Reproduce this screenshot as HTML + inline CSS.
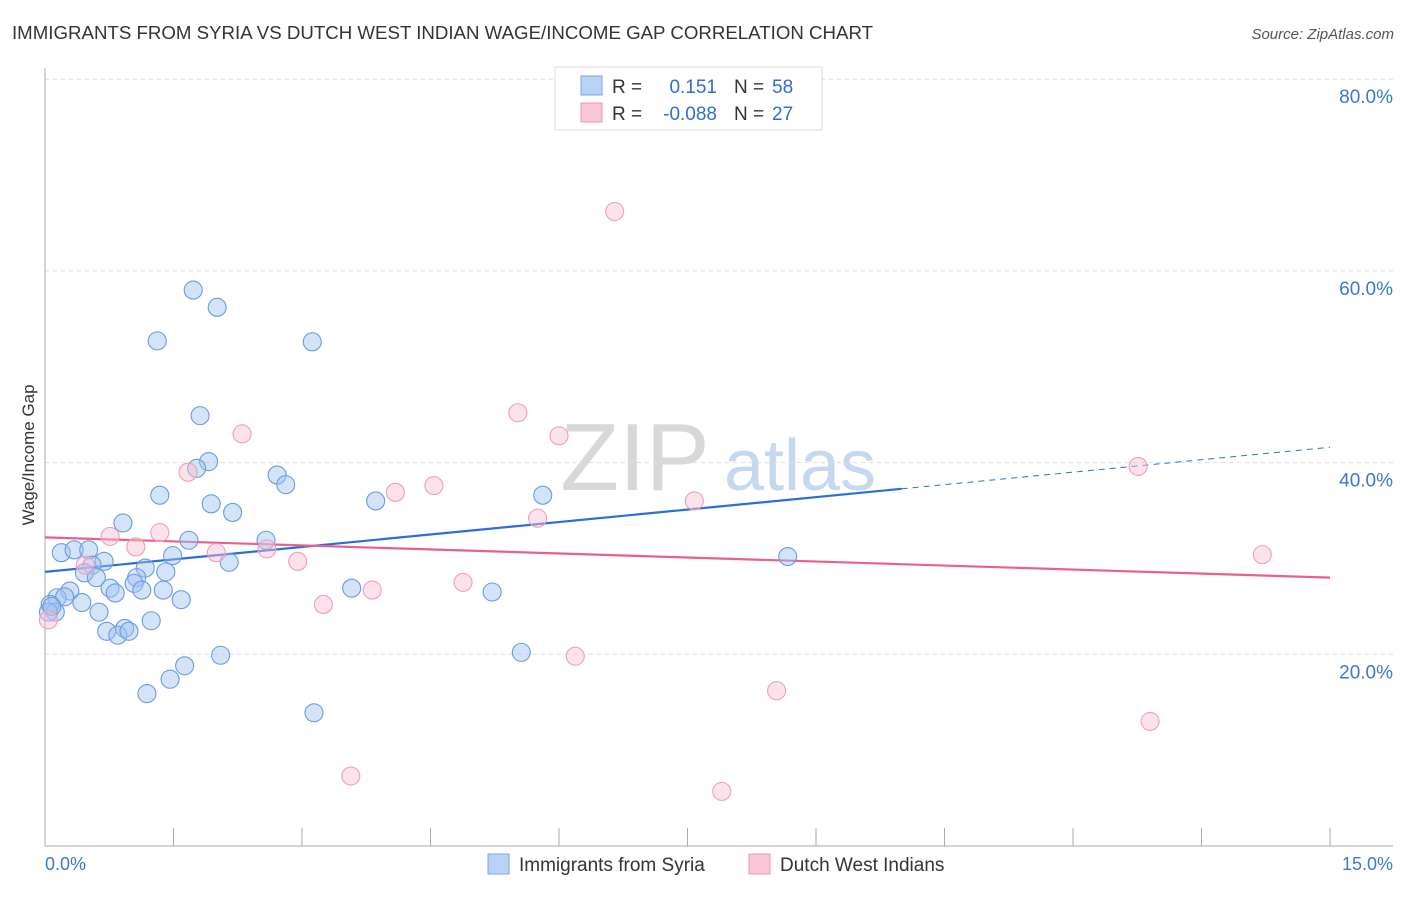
<!DOCTYPE html>
<html><head><meta charset="utf-8"><style>
body{margin:0;background:#fff;font-family:"Liberation Sans",sans-serif;}
svg text{font-family:"Liberation Sans",sans-serif;}
</style></head><body>
<svg id="chart" width="1406" height="892" viewBox="0 0 1406 892" xmlns="http://www.w3.org/2000/svg">
<text x="12" y="39" font-size="18" fill="#333" textLength="861" lengthAdjust="spacingAndGlyphs">IMMIGRANTS FROM SYRIA VS DUTCH WEST INDIAN WAGE/INCOME GAP CORRELATION CHART</text>
<text x="1394" y="39" font-size="15" fill="#555" font-style="italic" text-anchor="end">Source: ZipAtlas.com</text>
<g>
<text x="635" y="490" font-size="96" fill="#d8d8d8" font-family="Liberation Serif,serif" text-anchor="middle">ZIP</text>
<text x="800" y="490" font-size="72" fill="#c5d8ef" text-anchor="middle">atlas</text>
</g>
<g id="grid"></g>
<g id="axes"></g>
<g id="trends"></g>
<g id="points"></g>
<text transform="translate(34,455) rotate(-90)" font-size="17" fill="#333" text-anchor="middle">Wage/Income Gap</text>
<g>
<rect x="555" y="67" width="267" height="63" fill="#fff" stroke="#ddd"/>
<rect x="581" y="76" width="21" height="19" fill="#b8d3f5" stroke="#7aa7e0"/>
<rect x="581" y="103" width="21" height="19" fill="#f9c6d6" stroke="#eb9ab5"/>
<text x="612" y="93" font-size="19" fill="#333">R =</text>
<text x="717" y="93" font-size="19" fill="#2f6fd0" text-anchor="end">0.151</text>
<text x="734" y="93" font-size="19" fill="#333">N =</text>
<text x="772" y="93" font-size="19" fill="#2f6fd0">58</text>
<text x="612" y="120" font-size="19" fill="#333">R =</text>
<text x="717" y="120" font-size="19" fill="#2f6fd0" text-anchor="end">-0.088</text>
<text x="734" y="120" font-size="19" fill="#333">N =</text>
<text x="772" y="120" font-size="19" fill="#2f6fd0">27</text>
</g>
<g>
<rect x="488" y="854" width="21" height="20" fill="#b8d3f5" stroke="#7aa7e0"/>
<text x="519" y="871" font-size="19" fill="#333">Immigrants from Syria</text>
<rect x="749" y="854" width="21" height="20" fill="#f9c6d6" stroke="#eb9ab5"/>
<text x="780" y="871" font-size="19" fill="#333">Dutch West Indians</text>
</g>
</svg>
<script>
const blueX=[1.73,2.01,1.31,3.12,1.81,1.91,1.77,2.71,2.81,1.34,3.86,1.94,2.19,5.81,0.91,2.58,1.68,0.19,0.34,0.51,0.69,1.49,2.15,8.67,1.17,0.55,0.46,0.60,1.41,1.07,1.04,0.76,0.82,1.13,1.38,0.29,3.58,5.22,0.14,0.43,1.59,0.06,0.12,0.04,0.63,1.24,0.93,0.72,0.85,0.98,2.05,5.56,1.63,1.46,1.19,3.14,0.23,0.08];
const blueY=[58.0,56.2,52.7,52.6,44.9,40.1,39.4,38.7,37.7,36.6,36.0,35.7,34.8,36.6,33.7,31.9,31.9,30.6,30.9,30.9,29.7,30.3,29.6,30.2,29.0,29.3,28.5,28.0,28.6,28.0,27.4,26.9,26.4,26.7,26.7,26.6,26.9,26.5,25.9,25.4,25.7,25.2,24.4,24.4,24.4,23.5,22.7,22.4,22.0,22.4,19.9,20.2,18.8,17.4,15.9,13.9,26.0,25.0];
const pinkX=[6.65,5.52,6.00,2.30,1.67,4.09,4.54,7.58,5.75,12.76,1.34,0.76,1.06,2.00,2.59,2.95,14.21,4.88,3.82,3.25,6.19,8.54,12.90,3.57,7.90,0.47,0.04];
const pinkY=[66.2,45.2,42.8,43.0,39.0,36.9,37.6,36.0,34.2,39.6,32.7,32.3,31.2,30.6,31.0,29.7,30.4,27.5,26.7,25.2,19.8,16.2,13.0,7.3,5.7,29.3,23.6];
const blueTrend=[28.6,41.6];
const pinkTrend=[32.2,28.0];
const yTicks=[20,40,60,80];
const xTickLabels=["0.0%","15.0%"];
const NS="http://www.w3.org/2000/svg";
const X=v=>45+v/15*1285;
const Y=v=>846-v/20*191.7;
function mk(tag,attrs,parent){const e=document.createElementNS(NS,tag);for(const k in attrs)e.setAttribute(k,attrs[k]);document.getElementById(parent).appendChild(e);return e;}
yTicks.forEach(t=>{
 const l=mk('line',{x1:45,x2:1393,y1:Y(t),y2:Y(t),stroke:'#ddd','stroke-dasharray':'4,4'},'grid');
 
 
 const tx=mk('text',{x:1393,y:Y(t)+24,'font-size':19,fill:'#3a78d4','text-anchor':'end'},'grid');
 tx.textContent=t.toFixed(1)+'%';
 
 
});
mk('line',{x1:45,x2:45,y1:68,y2:846,stroke:'#aaa'},'axes');
mk('line',{x1:45,x2:1393,y1:846,y2:846,stroke:'#aaa'},'axes');
for(let i=1;i<=10;i++){const tk=mk('line',{x1:X(i*1.5),x2:X(i*1.5),y1:828,y2:846,stroke:'#aaa'},'axes');
 
 }
const xl0=mk('text',{x:45,y:870,'font-size':18,fill:'#3a78d4'},'axes');xl0.textContent=xTickLabels[0];


const xl1=mk('text',{x:1393,y:870,'font-size':18,fill:'#3a78d4','text-anchor':'end'},'axes');xl1.textContent=xTickLabels[1];


blueX.forEach((x,i)=>{const c=mk('circle',{cx:X(x),cy:Y(blueY[i]),r:9,fill:'rgba(160,195,240,0.45)',stroke:'#6a9be0','stroke-width':1.1},'points');
 
 });
pinkX.forEach((x,i)=>{const c=mk('circle',{cx:X(x),cy:Y(pinkY[i]),r:9,fill:'rgba(248,190,210,0.45)',stroke:'#ed9fba','stroke-width':1.1},'points');
 
 });
const bAt=x=>blueTrend[0]+(blueTrend[1]-blueTrend[0])*x/15;
const tb1=mk('line',{x1:X(0),y1:Y(bAt(0)),x2:X(10),y2:Y(bAt(10)),stroke:'#2a6fd6','stroke-width':2.2},'trends');


const tb2=mk('line',{x1:X(10),y1:Y(bAt(10)),x2:X(15),y2:Y(bAt(15)),stroke:'#2a6fd6','stroke-width':1,'stroke-dasharray':'6,5'},'trends');


const tp=mk('line',{x1:X(0),y1:Y(pinkTrend[0]),x2:X(15),y2:Y(pinkTrend[1]),stroke:'#e8608e','stroke-width':2.2},'trends');


</script>
</body></html>
